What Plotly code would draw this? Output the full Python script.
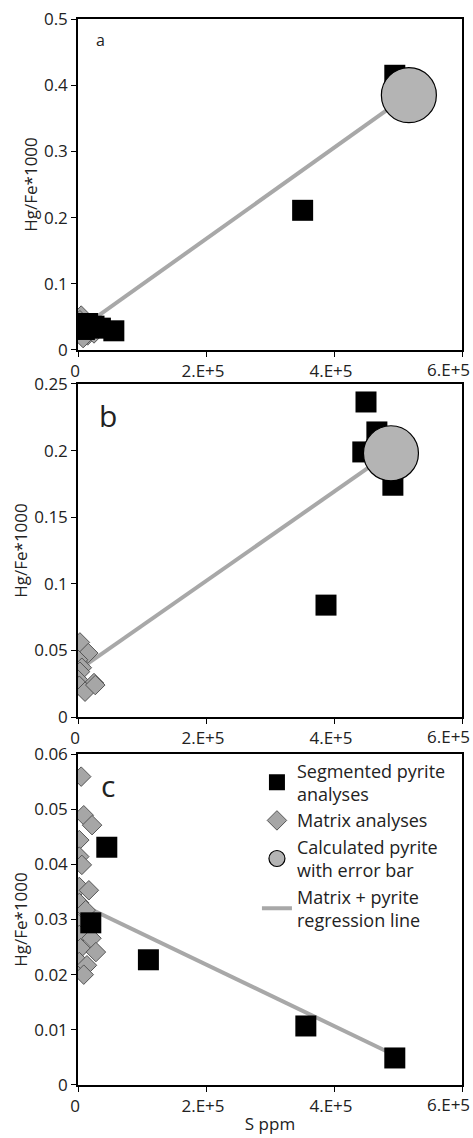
import plotly.graph_objects as go

# ---------------- data ----------------
# panel a
a_sq_x = [10000, 15000, 25000, 35000, 56000, 351000, 495000]
a_sq_y = [0.031, 0.040, 0.036, 0.033, 0.029, 0.211, 0.415]
a_dm_x = [5000, 3000, 10000, 2000, 5000, 15000, 8000, 25000]
a_dm_y = [0.052, 0.045, 0.040, 0.035, 0.028, 0.022, 0.018, 0.025]
a_ci_x = [517000]
a_ci_y = [0.385]
a_ln_x = [0, 517000]
a_ln_y = [0.030, 0.386]

# panel b
b_sq_x = [450000, 467000, 445000, 492000, 387500]
b_sq_y = [0.2365, 0.214, 0.199, 0.174, 0.084]
b_dm_x = [3000, 16000, 0, 6000, 3000, 0, 25000, 2000, 11000, 27000]
b_dm_y = [0.056, 0.048, 0.043, 0.037, 0.034, 0.028, 0.0255, 0.0235, 0.019, 0.024]
b_ci_x = [489000]
b_ci_y = [0.198]
b_ln_x = [0, 489000]
b_ln_y = [0.035, 0.199]

# panel c
c_sq_x = [45000, 20000, 110000, 356000, 495000]
c_sq_y = [0.0431, 0.0294, 0.0227, 0.0107, 0.0049]
c_dm_x = [5000, 9000, 22000, 2000, 2000, 6000, 2000, 17000, 2000, 12000,
          0, 2000, 21000, 4000, 28000, 2000, 14000, 9000]
c_dm_y = [0.0559, 0.0489, 0.0471, 0.0444, 0.0414, 0.0399, 0.0359, 0.0353, 0.033, 0.0317,
          0.0293, 0.0272, 0.0266, 0.0248, 0.0241, 0.0223, 0.0217, 0.0200]
c_ln_x = [0, 495000]
c_ln_y = [0.033, 0.0054]

x_ticks = [0, 200000, 400000, 600000]
x_tick_text = ["0", "2.E+5", "4.E+5", "6.E+5"]

names = ["Segmented pyrite<br>analyses", "Matrix analyses",
         "Calculated pyrite<br>with error bar", "Matrix + pyrite<br>regression line"]

# ---------------- styles ----------------
SQ = dict(symbol="square", size=21, color="#000000", line=dict(width=0))
DM = dict(symbol="diamond", size=15, color="#a6a6a6", line=dict(width=1, color="#555555"))
CI = dict(symbol="circle", size=55, color="#b4b4b4", line=dict(width=1.2, color="#000000"))
LN = dict(color="#a8a8a8", width=4)

fig = go.Figure()

panels = [
    ("x", "y", a_sq_x, a_sq_y, a_dm_x, a_dm_y, a_ci_x, a_ci_y, a_ln_x, a_ln_y),
    ("x2", "y2", b_sq_x, b_sq_y, b_dm_x, b_dm_y, b_ci_x, b_ci_y, b_ln_x, b_ln_y),
    ("x3", "y3", c_sq_x, c_sq_y, c_dm_x, c_dm_y, None, None, c_ln_x, c_ln_y),
]

for i, (xa, ya, sqx, sqy, dmx, dmy, cix, ciy, lnx, lny) in enumerate(panels):
    leg = (i == 0)
    fig.add_trace(go.Scatter(x=lnx, y=lny, mode="lines", line=LN, name=names[3],
                             showlegend=leg, legendrank=4, xaxis=xa, yaxis=ya))
    fig.add_trace(go.Scatter(x=dmx, y=dmy, mode="markers", marker=DM, name=names[1],
                             showlegend=leg, legendrank=2, xaxis=xa, yaxis=ya))
    fig.add_trace(go.Scatter(x=sqx, y=sqy, mode="markers", marker=SQ, name=names[0],
                             showlegend=leg, legendrank=1, xaxis=xa, yaxis=ya))
    if cix is not None:
        fig.add_trace(go.Scatter(x=cix, y=ciy, mode="markers", marker=CI, name=names[2],
                                 showlegend=leg, legendrank=3, xaxis=xa, yaxis=ya))

FONT = "Open Sans"
TXT = "#222222"

def xax(domain_anchor, title=None):
    # last tick label is drawn right-aligned as an annotation so it stays inside the page
    d = dict(range=[0, 600000], tickvals=x_ticks, ticktext=x_tick_text[:-1] + [""],
             showgrid=False, zeroline=False, showline=True, linecolor="#000", linewidth=1.5,
             mirror=True, ticks="outside", ticklen=5, tickcolor="#000",
             ticklabelshift=-3, automargin=False,
             tickfont=dict(family=FONT, size=17, color=TXT), anchor=domain_anchor,
             domain=[0, 1])
    if title:
        d["title"] = dict(text=title, font=dict(family=FONT, size=17, color=TXT), standoff=2)
    return d

def yax(rng, dtick, domain, anchor):
    return dict(range=rng, dtick=dtick, showgrid=False, zeroline=False, showline=True,
                linecolor="#000", linewidth=1.5, mirror=True, ticks="outside", ticklen=5,
                tickcolor="#000", tickfont=dict(family=FONT, size=17, color=TXT),
                automargin=False,
                title=dict(text="Hg/Fe*1000", font=dict(family=FONT, size=17, color=TXT), standoff=2),
                domain=domain, anchor=anchor)

annotations = [
    dict(text="a", x=0.058, y=0.937, xref="x domain", yref="y domain", showarrow=False,
         font=dict(family=FONT, size=16, color=TXT), xanchor="center", yanchor="middle"),
    dict(text="b", x=0.078, y=0.905, xref="x2 domain", yref="y2 domain", showarrow=False,
         font=dict(family=FONT, size=30, color=TXT), xanchor="center", yanchor="middle"),
    dict(text="c", x=0.078, y=0.905, xref="x3 domain", yref="y3 domain", showarrow=False,
         font=dict(family=FONT, size=30, color=TXT), xanchor="center", yanchor="middle"),
]
for xr, yr in [("x", "y"), ("x2", "y2"), ("x3", "y3")]:
    annotations.append(dict(text=x_tick_text[-1], x=x_ticks[-1], y=0, xref=xr,
                            yref=yr + " domain", xanchor="right", yanchor="top",
                            xshift=10, yshift=-6, showarrow=False,
                            font=dict(family=FONT, size=17, color=TXT)))

fig.update_layout(
    width=473, height=1138,
    margin=dict(l=78, r=11, t=19, b=53),
    paper_bgcolor="white", plot_bgcolor="white",
    xaxis=xax("y"),
    xaxis2=xax("y2"),
    xaxis3=xax("y3", "S ppm"),
    yaxis=yax([0, 0.5], 0.1, [0.6895, 1.0], "x"),
    yaxis2=yax([0, 0.25], 0.05, [0.3452, 0.6576], "x2"),
    yaxis3=yax([0, 0.06], 0.01, [0.0, 0.3105], "x3"),
    legend=dict(x=0.466, y=0.312, xref="paper", yref="paper", xanchor="left", yanchor="top",
                bgcolor="rgba(0,0,0,0)", font=dict(family=FONT, size=18, color=TXT),
                itemsizing="trace", tracegroupgap=0, valign="middle"),
    annotations=annotations,
)

fig.write_html("out.html")
